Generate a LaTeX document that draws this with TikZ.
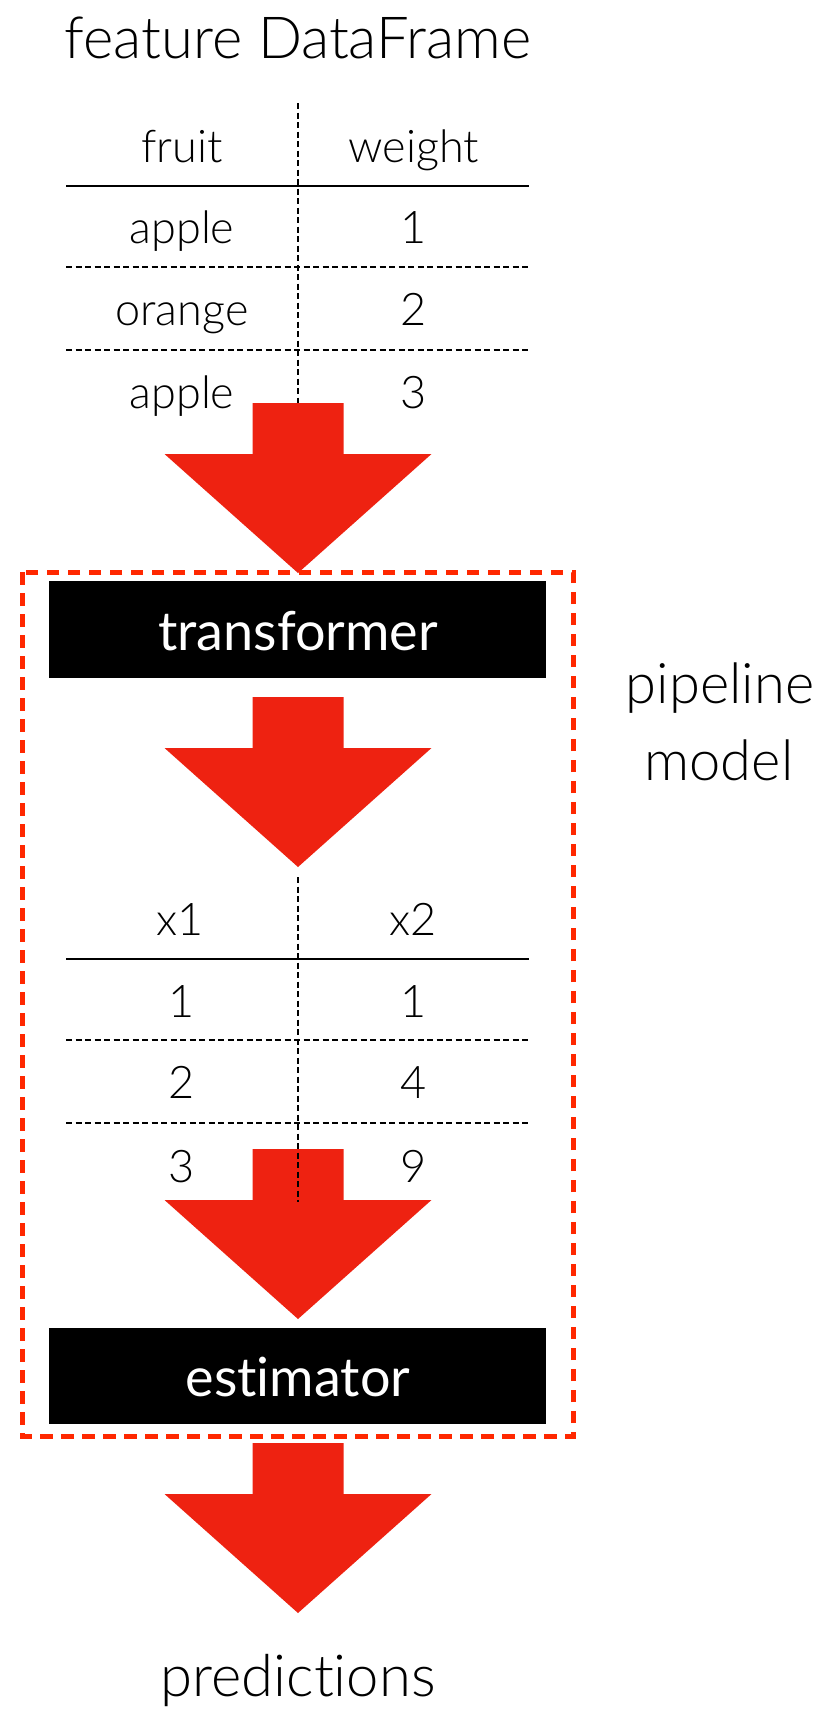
\documentclass[tikz,border=0pt]{standalone}
\usepackage{fontspec}
\setmainfont{Lato}[UprightFont=* Light, Ligatures=NoCommon]
\newfontfamily\boxfont{Lato}[Ligatures=NoCommon]
\definecolor{arrowred}{RGB}{238,34,17}
\definecolor{framered}{RGB}{255,40,0}
\begin{document}
\begin{tikzpicture}[x=1pt,y=-1pt,
  txt/.style={anchor=base, inner sep=0pt, font=\fontsize{45}{50}\selectfont},
  bigtxt/.style={anchor=base, inner sep=0pt, font=\fontsize{58}{62}\selectfont},
  sidetxt/.style={anchor=base, inner sep=0pt, font=\fontsize{56}{60}\selectfont},
  boxtxt/.style={anchor=base, inner sep=0pt, text=white, font=\boxfont\fontsize{54}{58}\selectfont},
  blackbox/.style={fill=black, draw=none},
  rule/.style={line width=2.4pt, black},
  dotrule/.style={line width=2.6pt, black, dash pattern=on 6pt off 3.5pt},
  frame/.style={draw=framered, line width=5pt, dash pattern=on 12.5pt off 8.5pt},
  bigarrow/.pic={\fill[arrowred] (-45.5,0) -- (45.5,0) -- (45.5,51) -- (133.5,51) -- (0,170) -- (-133.5,51) -- (-45.5,51) -- cycle;}
]
\useasboundingbox (0,0) rectangle (823,1709);
\fill[white] (0,0) rectangle (823,1709);

% title
\node[bigtxt] (title) at (298,58) {feature DataFrame};

% table 1
\coordinate (t1top) at (298,103);
\coordinate (t1bot) at (298,403);
\draw[dotrule] (t1top) -- (t1bot);
\coordinate (h1l) at (66,186);  \coordinate (h1r) at (529,186);
\coordinate (d1l) at (66,267);  \coordinate (d1r) at (529,267);
\coordinate (d2l) at (66,350);  \coordinate (d2r) at (529,350);
\draw[rule] (h1l) -- (h1r);
\draw[dotrule] (d1l) -- (d1r);
\draw[dotrule] (d2l) -- (d2r);
\node[txt] (fruit) at (182,162) {fruit};
\node[txt] (weight) at (414,162) {weight};
\node[txt] (a1) at (182,243) {apple};
\node[txt] (w1) at (414,243) {1};
\node[txt] (o2) at (182,325) {orange};
\node[txt] (w2) at (414,325) {2};
\node[txt] (a3) at (182,408) {apple};
\node[txt] (w3) at (414,408) {3};

% arrow 1
\pic (arr1) at (298,403) {bigarrow};

% pipeline frame
\draw[frame] (22,572) rectangle (573,1436);

% transformer
\fill[blackbox] (49,581) rectangle (546,678);
\node[boxtxt] (transformer) at (298,650) {transformer};

% side label
\node[sidetxt] (pipe) at (720,703) {pipeline};
\node[sidetxt] (model) at (719,780) {model};

% arrow 2
\pic (arr2) at (298,697) {bigarrow};

% table 2 lines and text
\coordinate (h2l) at (66,959);  \coordinate (h2r) at (529,959);
\coordinate (e1l) at (66,1040); \coordinate (e1r) at (529,1040);
\coordinate (e2l) at (66,1123); \coordinate (e2r) at (529,1123);
\draw[rule] (h2l) -- (h2r);
\draw[dotrule] (e1l) -- (e1r);
\draw[dotrule] (e2l) -- (e2r);
\node[txt] (x1) at (180,935) {x1};
\node[txt] (x2) at (413,935) {x2};
\node[txt] (r1a) at (182,1017) {1};
\node[txt] (r1b) at (414,1017) {1};
\node[txt] (r2a) at (182,1098) {2};
\node[txt] (r2b) at (414,1098) {4};
\node[txt] (r3a) at (182,1182) {3};
\node[txt] (r3b) at (414,1182) {9};

% arrow 3
\pic (arr3) at (298,1149) {bigarrow};
\coordinate (t2top) at (298,877);
\coordinate (t2bot) at (298,1202);
\draw[dotrule] (t2top) -- (t2bot);

% estimator
\fill[blackbox] (49,1328) rectangle (546,1424);
\node[boxtxt] (estimator) at (298,1396) {estimator};

% arrow 4
\pic (arr4) at (298,1443) {bigarrow};

\node[sidetxt, font=\fontsize{58}{62}\selectfont] (pred) at (298,1696) {predictions};
\end{tikzpicture}
\end{document}
